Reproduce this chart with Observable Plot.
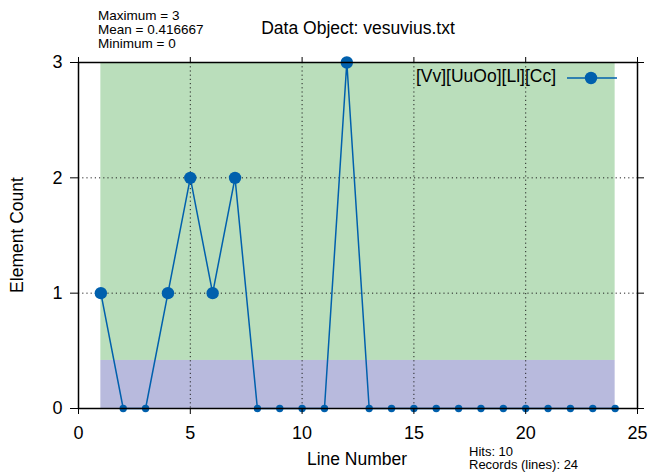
<!DOCTYPE html>
<html>
<head>
<meta charset="utf-8">
<script src="https://cdn.jsdelivr.net/npm/d3@7"></script>
<script src="https://cdn.jsdelivr.net/npm/@observablehq/plot@0.6"></script>
<style>
  html, body { margin: 0; padding: 0; background: #fff; }
  #wrap { position: relative; width: 651px; height: 475px; font-family: "Liberation Sans", Arial, Helvetica, sans-serif; }
  #wrap svg { position: absolute; left: 0; top: 0; }
  .t { position: absolute; color: #000; white-space: nowrap; line-height: 1; }
</style>
</head>
<body>
<div id="wrap"></div>
<script>
// ---- data ----
const lineNumbers = [1,2,3,4,5,6,7,8,9,10,11,12,13,14,15,16,17,18,19,20,21,22,23,24];
const counts      = [1,0,0,1,2,1,2,0,0,0,0,3,0,0,0,0,0,0,0,0,0,0,0,0];
const xTicks = [0,5,10,15,20,25];
const yTicks = [0,1,2,3];
const gridXValues = [5,10,15,20];
const gridYValues = [1,2];
const statMax = 3, statMean = 0.416667, statMin = 0;
const hits = 10, records = 24;
const titleText = "Data Object: vesuvius.txt";
const seriesName = "[Vv][UuOo][Ll][Cc]";
const xLabel = "Line Number", yLabel = "Element Count";

const data = lineNumbers.map((n, i) => ({n, c: counts[i]}));
const bands = [
  {x1: lineNumbers[0], x2: lineNumbers[lineNumbers.length-1], y1: statMean, y2: statMax, fill: "#badebb"},
  {x1: lineNumbers[0], x2: lineNumbers[lineNumbers.length-1], y1: statMin, y2: statMean, fill: "#b8badd"}
];
const blue = "#0060ad";

const chart = Plot.plot({
  width: 651, height: 475,
  marginLeft: 78, marginRight: 14, marginTop: 62, marginBottom: 67,
  style: {fontFamily: "'Liberation Sans', Arial, Helvetica, sans-serif", background: "transparent"},
  x: {domain: [0, 25]},
  y: {domain: [0, 3]},
  marks: [
    Plot.rect(bands, {x1: "x1", x2: "x2", y1: "y1", y2: "y2", fill: d => d.fill}),
    Plot.gridX(gridXValues, {stroke: "#222", strokeOpacity: 1, strokeDasharray: "1.2,3", strokeWidth: 1}),
    Plot.gridY(gridYValues, {stroke: "#222", strokeOpacity: 1, strokeDasharray: "1.2,3", strokeWidth: 1}),
    Plot.line(data, {x: "n", y: "c", stroke: blue, strokeWidth: 1.5}),
    Plot.dot(data, {filter: d => d.c > 0, x: "n", y: "c", fill: blue, stroke: "none", r: 6.2}),
    Plot.dot(data, {filter: d => d.c === 0, x: "n", y: "c", fill: blue, stroke: "none", r: 3.7}),
    Plot.frame({stroke: "#000", strokeWidth: 1.5}),
    Plot.axisX({ticks: xTicks, tickSize: 6, tickPadding: 12, fontSize: 18, label: null, tickFormat: d => String(d)}),
    Plot.axisX({anchor: "top", ticks: xTicks, tickSize: 6, tickFormat: () => "", label: null}),
    Plot.axisY({ticks: yTicks, tickSize: 8, tickPadding: 8, fontSize: 18, label: null, tickFormat: d => String(d)}),
    Plot.axisY({anchor: "right", ticks: yTicks, tickSize: 6, tickFormat: () => "", label: null})
  ]
});
chart.style.overflow = "visible";
const wrap = document.getElementById("wrap");
wrap.appendChild(chart);

function addText(txt, css) {
  const d = document.createElement("div");
  d.className = "t";
  d.textContent = txt;
  Object.assign(d.style, css);
  wrap.appendChild(d);
  return d;
}
addText(`Maximum = ${statMax}`, {left: "98px", top: "9px", fontSize: "13.5px"});
addText(`Mean = ${statMean}`, {left: "98px", top: "23px", fontSize: "13.5px"});
addText(`Minimum = ${statMin}`, {left: "98px", top: "37px", fontSize: "13.5px"});
addText(titleText, {left: "358px", top: "20px", fontSize: "17.5px", transform: "translateX(-50%)"});
addText(xLabel, {left: "357px", top: "451px", fontSize: "17.5px", transform: "translateX(-50%)"});
addText(yLabel, {left: "18px", top: "235px", fontSize: "17.5px", transform: "translate(-50%,-50%) rotate(-90deg)"});
addText(`Hits: ${hits}`, {left: "469px", top: "444.5px", fontSize: "13px"});
addText(`Records (lines): ${records}`, {left: "469px", top: "458px", fontSize: "13px"});

// legend
addText(seriesName, {left: "556px", top: "68px", fontSize: "17.5px", transform: "translateX(-100%)"});
const ns = "http://www.w3.org/2000/svg";
const lg = document.createElementNS(ns, "svg");
lg.setAttribute("width", 60); lg.setAttribute("height", 20);
lg.style.position = "absolute"; lg.style.left = "564px"; lg.style.top = "68px";
const ln = document.createElementNS(ns, "line");
ln.setAttribute("x1", 3); ln.setAttribute("x2", 53); ln.setAttribute("y1", 10); ln.setAttribute("y2", 10);
ln.setAttribute("stroke", blue); ln.setAttribute("stroke-width", 1.5);
const cc = document.createElementNS(ns, "circle");
cc.setAttribute("cx", 27); cc.setAttribute("cy", 10); cc.setAttribute("r", 6.2); cc.setAttribute("fill", blue);
lg.appendChild(ln); lg.appendChild(cc);
wrap.appendChild(lg);
</script>
</body>
</html>
